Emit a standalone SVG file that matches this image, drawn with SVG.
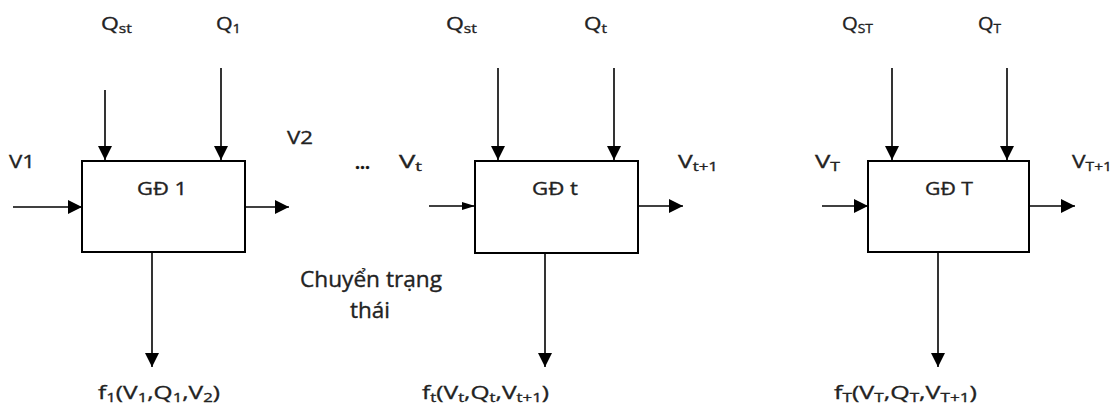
<svg xmlns="http://www.w3.org/2000/svg" width="1117" height="409" viewBox="0 0 1117 409">
<style>
text{font-family:"Open Sans","Liberation Sans",sans-serif;font-size:19px;font-weight:400;fill:#222;stroke:#222;stroke-width:0.35}
.sub{font-size:13px}
.big{font-size:21px}
.dots{font-size:17px;font-weight:bold;fill:#111}
.box{fill:#fff;stroke:#000;stroke-width:2}
.ar{stroke:#000;stroke-width:1.6;fill:none;marker-end:url(#ah)}
.ars{stroke:#000;stroke-width:1.6;fill:none;marker-end:url(#ahs)}
</style>
<defs>
<marker id="ah" markerUnits="userSpaceOnUse" markerWidth="15" markerHeight="15" refX="14" refY="7" orient="auto" viewBox="0 0 15 15"><path d="M0,0 L14,7 L0,14 z" fill="#000"/></marker>
<marker id="ahs" markerUnits="userSpaceOnUse" markerWidth="14" markerHeight="9" refX="13" refY="4" orient="auto" viewBox="0 0 14 9"><path d="M0,0 L13,4 L0,8 z" fill="#000"/></marker>
</defs>
<g id="node1">
<rect class="box" x="82" y="161" width="163" height="91"/>
<text x="137" y="195" textLength="50" lengthAdjust="spacingAndGlyphs">GĐ 1</text>
</g>
<g id="node2">
<rect class="box" x="475" y="161" width="163" height="92"/>
<text x="532" y="195" textLength="46" lengthAdjust="spacingAndGlyphs">GĐ t</text>
</g>
<g id="node3">
<rect class="box" x="868" y="161" width="161" height="91"/>
<text x="925" y="195" textLength="48" lengthAdjust="spacingAndGlyphs">GĐ T</text>
</g>
<g id="connectors">
<line class="ar" x1="105" y1="90" x2="105" y2="160"/>
<line class="ar" x1="221" y1="68" x2="221" y2="160"/>
<line class="ar" x1="13" y1="207" x2="82" y2="207"/>
<line class="ar" x1="245" y1="207" x2="289" y2="207"/>
<line class="ar" x1="152" y1="252" x2="152" y2="367"/>
<line class="ar" x1="498" y1="68" x2="498" y2="160"/>
<line class="ar" x1="614" y1="68" x2="614" y2="160"/>
<line class="ars" x1="429" y1="206" x2="475" y2="206"/>
<line class="ar" x1="638" y1="206" x2="683" y2="206"/>
<line class="ar" x1="545" y1="253" x2="545" y2="367"/>
<line class="ar" x1="892" y1="68" x2="892" y2="160"/>
<line class="ar" x1="1007" y1="68" x2="1007" y2="160"/>
<line class="ar" x1="822" y1="206" x2="868" y2="206"/>
<line class="ar" x1="1029" y1="206" x2="1075" y2="206"/>
<line class="ar" x1="938" y1="252" x2="938" y2="367"/>
</g>
<g id="labels">
<text x="101" y="30" textLength="31" lengthAdjust="spacingAndGlyphs">Q<tspan class="sub" dy="3">st</tspan></text>
<text x="216" y="30" textLength="25" lengthAdjust="spacingAndGlyphs">Q<tspan class="sub" dy="3">1</tspan></text>
<text x="446" y="30" textLength="31" lengthAdjust="spacingAndGlyphs">Q<tspan class="sub" dy="3">st</tspan></text>
<text x="584" y="30" textLength="23" lengthAdjust="spacingAndGlyphs">Q<tspan class="sub" dy="3">t</tspan></text>
<text x="842" y="30" textLength="31" lengthAdjust="spacingAndGlyphs">Q<tspan class="sub" dy="3">ST</tspan></text>
<text x="978" y="30" textLength="23" lengthAdjust="spacingAndGlyphs">Q<tspan class="sub" dy="3">T</tspan></text>
<text x="9" y="168" textLength="26" lengthAdjust="spacingAndGlyphs">V1</text>
<text x="287" y="144" textLength="26" lengthAdjust="spacingAndGlyphs">V2</text>
<text class="dots" x="355" y="169" textLength="15" lengthAdjust="spacingAndGlyphs">...</text>
<text x="399" y="168" textLength="23" lengthAdjust="spacingAndGlyphs">V<tspan class="sub" dy="3">t</tspan></text>
<text x="678" y="168" textLength="40" lengthAdjust="spacingAndGlyphs">V<tspan class="sub" dy="3">t+1</tspan></text>
<text x="815" y="168" textLength="25" lengthAdjust="spacingAndGlyphs">V<tspan class="sub" dy="3">T</tspan></text>
<text x="1072" y="168" textLength="40" lengthAdjust="spacingAndGlyphs">V<tspan class="sub" dy="3">T+1</tspan></text>
<text class="big" x="300" y="287" textLength="142" lengthAdjust="spacingAndGlyphs">Chuyển trạng</text>
<text class="big" x="350" y="318" textLength="40" lengthAdjust="spacingAndGlyphs">thái</text>
<text x="98" y="399" textLength="122" lengthAdjust="spacingAndGlyphs">f<tspan class="sub" dy="3">1</tspan><tspan dy="-3">(V</tspan><tspan class="sub" dy="3">1</tspan><tspan dy="-3">,Q</tspan><tspan class="sub" dy="3">1</tspan><tspan dy="-3">,V</tspan><tspan class="sub" dy="3">2</tspan><tspan dy="-3">)</tspan></text>
<text x="422" y="399" textLength="127" lengthAdjust="spacingAndGlyphs">f<tspan class="sub" dy="3">t</tspan><tspan dy="-3">(V</tspan><tspan class="sub" dy="3">t</tspan><tspan dy="-3">,Q</tspan><tspan class="sub" dy="3">t</tspan><tspan dy="-3">,V</tspan><tspan class="sub" dy="3">t+1</tspan><tspan dy="-3">)</tspan></text>
<text x="834" y="399" textLength="143" lengthAdjust="spacingAndGlyphs">f<tspan class="sub" dy="3">T</tspan><tspan dy="-3">(V</tspan><tspan class="sub" dy="3">T</tspan><tspan dy="-3">,Q</tspan><tspan class="sub" dy="3">T</tspan><tspan dy="-3">,V</tspan><tspan class="sub" dy="3">T+1</tspan><tspan dy="-3">)</tspan></text>
</g>
</svg>
